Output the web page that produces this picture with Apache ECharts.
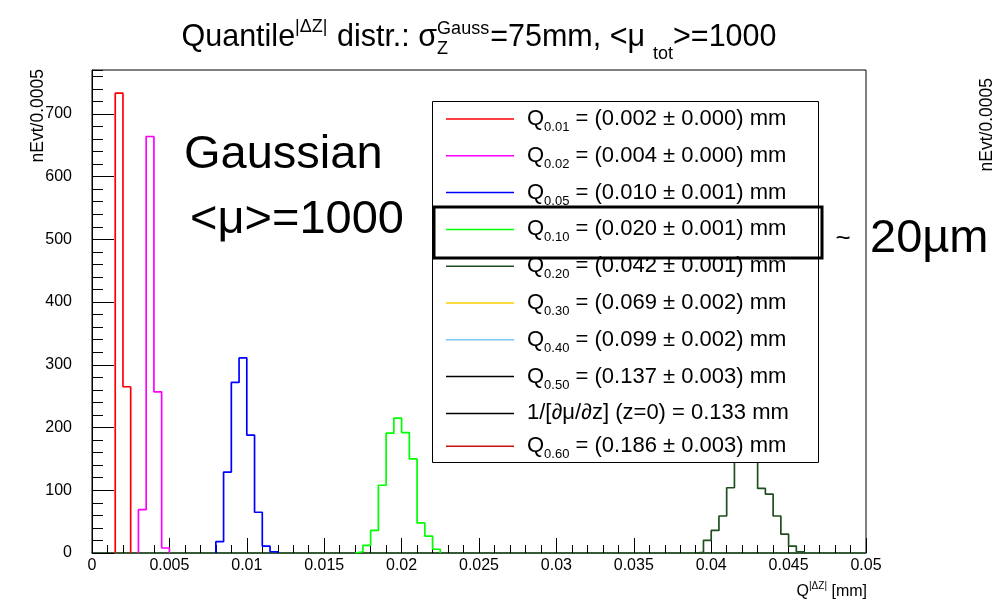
<!DOCTYPE html>
<html><head><meta charset="utf-8">
<script src="https://cdn.jsdelivr.net/npm/echarts@6/dist/echarts.min.js"></script>
<style>html,body{margin:0;padding:0;background:#fff}#c{width:994px;height:603px}</style>
</head><body><div id="c"></div>
<script>
// ---- data ----
const binWidth = 0.0005;
const redEdges = [0.0015, 0.002];
const redCounts = [733, 265];
const magentaEdges = [0.003, 0.0035, 0.004, 0.0045];
const magentaCounts = [69, 664, 257, 8];
const blueEdges = [0.008, 0.0085, 0.009, 0.0095, 0.010, 0.0105, 0.011, 0.0115];
const blueCounts = [18, 129, 272, 311, 188, 65, 11, 2];
const greenEdges = [0.017, 0.0175, 0.018, 0.0185, 0.019, 0.0195, 0.020, 0.0205, 0.021, 0.0215, 0.022];
const greenCounts = [2, 12, 36, 108, 191, 215, 192, 150, 48, 27, 6];
const darkGreenEdges = [0.039, 0.0395, 0.040, 0.0405, 0.041, 0.0415, 0.042, 0.0425, 0.043, 0.0435, 0.044, 0.0445, 0.045, 0.0455];
const darkGreenCounts = [1, 20, 36, 59, 104, 150, 180, 151, 103, 94, 59, 30, 11, 2];

const legendNames = ['Q0.01', 'Q0.02', 'Q0.05', 'Q0.10', 'Q0.20', 'Q0.30', 'Q0.40', 'Q0.50', 'invslope', 'Q0.60'];
const legendSubs = ['0.01', '0.02', '0.05', '0.10', '0.20', '0.30', '0.40', '0.50', '', '0.60'];
const legendTexts = [' = (0.002 \u00b1 0.000) mm', ' = (0.004 \u00b1 0.000) mm', ' = (0.010 \u00b1 0.001) mm',
  ' = (0.020 \u00b1 0.001) mm', ' = (0.042 \u00b1 0.001) mm', ' = (0.069 \u00b1 0.002) mm',
  ' = (0.099 \u00b1 0.002) mm', ' = (0.137 \u00b1 0.003) mm', '1/[\u2202\u03bc/\u2202z] (z=0) = 0.133 mm',
  ' = (0.186 \u00b1 0.003) mm'];
const seriesColors = ['#ff0000', '#ff00ff', '#0000ff', '#00ff00', '#1f4f1f', '#ffcc00', '#7cc6f5', '#000000', '#000000', '#cc1111'];

const xTickMin = 0, xTickMax = 0.05, xTickStep = 0.005;
const yTickMin = 0, yTickMax = 770, yTickStep = 100, yMinorStep = 20;

// ---- build step outlines ----
function outline(edges, counts) {
  const pts = [[edges[0], 0]];
  for (let i = 0; i < edges.length; i++) pts.push([edges[i], counts[i]]);
  pts.push([edges[edges.length - 1] + binWidth, 0]);
  return pts;
}
const histData = [
  outline(redEdges, redCounts),
  outline(magentaEdges, magentaCounts),
  outline(blueEdges, blueCounts),
  outline(greenEdges, greenCounts),
  outline(darkGreenEdges, darkGreenCounts),
  [], [], [], [], []
];

const FONT = 'Liberation Sans';
const series = legendNames.map((n, i) => ({
  name: n, type: 'line', step: 'end', symbol: 'none', data: histData[i],
  color: seriesColors[i], lineStyle: { width: 1.7, color: seriesColors[i] },
  animation: false, z: 2
}));

// ---- text measuring for title layout ----
const mctx = document.createElement('canvas').getContext('2d');
function tw(t, s) { mctx.font = s + 'px "' + FONT + '"'; return mctx.measureText(t).width; }

const F = 30.5, f = 18, cy = 38;
const titlePieces = [
  { t: 'Quantile', s: F, dy: 0 },
  { t: '|\u0394Z|', s: f, dy: -11, pad: 1 },
  { t: ' distr.: \u03c3', s: F, dy: 0 },
  { t: 'Gauss', s: f, dy: -9, under: 'Z', udy: 11, pad: 1 },
  { t: '=75mm, <\u03bc', s: F, dy: 0 },
  { t: 'tot', s: f, dy: 16, padL: 8 },
  { t: '>=1000', s: F, dy: 0 }
];
let total = 0;
titlePieces.forEach(p => { p.w = tw(p.t, p.s) + (p.pad || 0) + (p.padL || 0); total += p.w; });
let tx = 479 - total / 2;
const titleEls = [];
titlePieces.forEach(p => {
  titleEls.push({ type: 'text', x: tx + (p.padL || 0), y: cy + p.dy, style: { text: p.t, font: p.s + 'px "' + FONT + '"', fill: '#000', verticalAlign: 'middle', align: 'left' } });
  if (p.under) titleEls.push({ type: 'text', x: tx, y: cy + p.udy, style: { text: p.under, font: p.s + 'px "' + FONT + '"', fill: '#000', verticalAlign: 'middle', align: 'left' } });
  tx += p.w;
});

const chart = echarts.init(document.getElementById('c'), null, { renderer: 'canvas' });
chart.setOption({
  animation: false,
  backgroundColor: '#fff',
  textStyle: { fontFamily: FONT },
  grid: { left: 92, right: 128, top: 70, bottom: 50, show: true, borderColor: '#000', borderWidth: 1, backgroundColor: 'transparent' },
  xAxis: {
    type: 'value', min: xTickMin, max: xTickMax, interval: xTickStep,
    axisLine: { show: true, onZero: false, lineStyle: { color: '#1f4f1f', width: 1.5 } },
    axisTick: { show: true, inside: true, length: 15, lineStyle: { color: '#000', width: 1 } },
    minorTick: { show: true, splitNumber: 5, length: 8, lineStyle: { color: '#000', width: 1 } },
    axisLabel: { fontSize: 16, color: '#000', margin: 5, fontFamily: FONT },
    splitLine: { show: false }
  },
  yAxis: [{
    type: 'value', min: yTickMin, max: yTickMax, interval: yTickStep, position: 'left',
    axisLine: { show: true, lineStyle: { color: '#000', width: 1 } },
    axisTick: { show: true, inside: true, length: 22, lineStyle: { color: '#000', width: 1 } },
    axisLabel: { fontSize: 16, color: '#000', margin: 20, showMaxLabel: false, fontFamily: FONT },
    splitLine: { show: false }
  }, {
    type: 'value', min: yTickMin, max: yTickMax, interval: yMinorStep, position: 'left',
    axisLine: { show: false },
    axisTick: { show: true, inside: true, length: 11, lineStyle: { color: '#000', width: 1 } },
    axisLabel: { show: false },
    splitLine: { show: false }
  }],
  legend: {
    orient: 'vertical', left: 446, top: 108, padding: 0, itemGap: 10.8,
    itemWidth: 68, itemHeight: 1.5, icon: 'rect', selectedMode: false, z: 6,
    data: legendNames,
    formatter: function (name) {
      const i = legendNames.indexOf(name);
      if (!legendSubs[i]) return '{p|}{t|' + legendTexts[i] + '}';
      return '{p|}{q|Q}{s|' + legendSubs[i] + '}{t|' + legendTexts[i] + '}';
    },
    textStyle: {
      fontFamily: FONT, fontSize: 22, color: '#000',
      rich: {
        p: { width: 8, lineHeight: 30 },
        q: { fontSize: 22, lineHeight: 30, fontFamily: FONT, color: '#000' },
        s: { fontSize: 13, lineHeight: 2, verticalAlign: 'bottom', fontFamily: FONT, color: '#000' },
        t: { fontSize: 22, lineHeight: 30, fontFamily: FONT, color: '#000' }
      }
    }
  },
  graphic: [
    ...titleEls,
    { type: 'rect', z: 4, shape: { x: 432.5, y: 101.5, width: 386, height: 361 }, style: { fill: '#fff', stroke: '#000', lineWidth: 1 } },
    { type: 'text', z: 10, x: 38, y: 69, rotation: Math.PI / 2, style: { text: 'nEvt/0.0005', font: '17.5px "' + FONT + '"', fill: '#000', align: 'right', verticalAlign: 'middle' } },
    { type: 'text', z: 10, x: 987, y: 78, rotation: Math.PI / 2, style: { text: 'nEvt/0.0005', font: '17.5px "' + FONT + '"', fill: '#000', align: 'right', verticalAlign: 'middle' } },
    { type: 'text', z: 10, x: 867, y: 592, style: { text: '{q|Q}{s||\u0394Z|}{q| [mm]}', align: 'right', verticalAlign: 'middle',
      rich: { q: { fontSize: 16, fontFamily: FONT, lineHeight: 22, fill: '#000' }, s: { fontSize: 10, fontFamily: FONT, lineHeight: 6, verticalAlign: 'top', fill: '#000' } } } },
    { type: 'text', z: 10, x: 184, y: 155, style: { text: 'Gaussian', font: '47px "' + FONT + '"', fill: '#000', verticalAlign: 'middle' } },
    { type: 'text', z: 10, x: 190, y: 220, style: { text: '<\u03bc>=1000', font: '47px "' + FONT + '"', fill: '#000', verticalAlign: 'middle' } },
    { type: 'rect', z: 10, shape: { x: 434, y: 207, width: 388, height: 51 }, style: { fill: 'none', stroke: '#000', lineWidth: 3 } },
    { type: 'text', z: 10, x: 843, y: 239, style: { text: '~', font: '26px "' + FONT + '"', fill: '#000', align: 'center', verticalAlign: 'middle' } },
    { type: 'text', z: 10, x: 870, y: 239, style: { text: '20\u00b5m', font: '47px "' + FONT + '"', fill: '#000', verticalAlign: 'middle' } }
  ],
  series: series
});
</script></body></html>
